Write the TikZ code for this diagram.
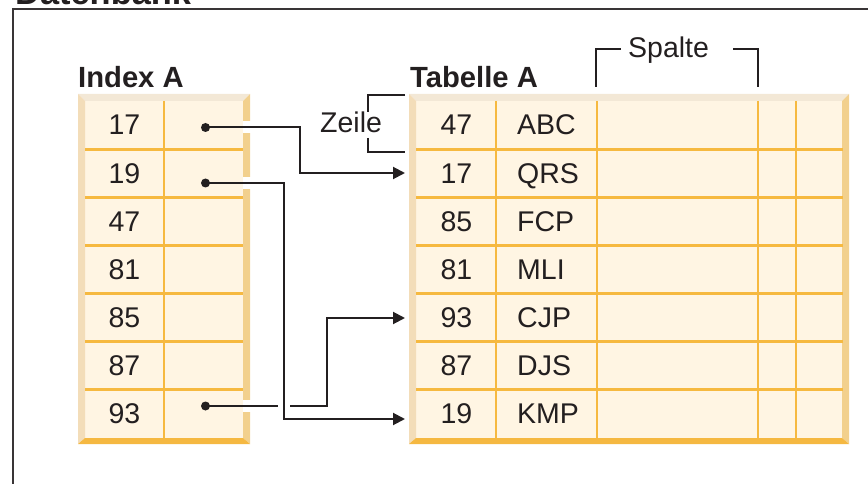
\documentclass[tikz,border=0pt]{standalone}
\usepackage{fontspec}
\setmainfont{Liberation Sans}
\usetikzlibrary{arrows.meta}
\definecolor{cream}{HTML}{FFF5E3}
\definecolor{bevtop}{HTML}{F3E8D6}
\definecolor{bevleft}{HTML}{F3DDB9}
\definecolor{bevright}{HTML}{F2D08D}
\definecolor{bevbot}{HTML}{F5B841}
\definecolor{gridc}{HTML}{F6B940}
\definecolor{ink}{HTML}{231F20}
\tikzset{
  txt/.style={inner sep=0pt, anchor=base, text=ink, font=\fontsize{28.5}{33}\selectfont},
  txtw/.style={txt, anchor=base west},
  lbl/.style={inner sep=0pt, anchor=base west, text=ink, font=\fontsize{29.2}{34}\selectfont\bfseries},
  gridline/.style={draw=gridc, line width=2.2pt},
  conn/.style={draw=ink, line width=2pt, -{Triangle[length=12pt,width=12pt]}},
  brk/.style={draw=ink, line width=2pt},
}
\newcommand\bevbox[4]{% x1 y1 x2 y2 (outer)
  \fill[cream] (#1+7,#2+7) rectangle (#3-7,#4-6);
  \fill[bevtop] (#1,#2) -- (#3,#2) -- (#3-7,#2+7) -- (#1+7,#2+7) -- cycle;
  \fill[bevleft] (#1,#2) -- (#1+7,#2+7) -- (#1+7,#4-6) -- (#1,#4) -- cycle;
  \fill[bevright] (#3,#2) -- (#3,#4) -- (#3-7,#4-6) -- (#3-7,#2+7) -- cycle;
  \fill[bevbot] (#1,#4) -- (#1+7,#4-6) -- (#3-7,#4-6) -- (#3,#4) -- cycle;
}
\begin{document}
\begin{tikzpicture}[x=1pt,y=-1pt]
\clip (0,0) rectangle (868,484);
% title and frame
\node[lbl, font=\fontsize{34.4}{40}\selectfont\bfseries] (title) at (15,5) {Datenbank};
\draw[draw=ink!90, line width=2pt] (13,490) -- (13,9.5) -- (875,9.5);

% ---------- Index A ----------
\node[lbl] (indexlbl) at (78,88) {Index A};
\bevbox{78}{94}{250}{444}
\draw[gridline] (164,101) -- (164,438);
\foreach \y in {149.5,197.5,245.5,293.5,341.5,389.5}
  \draw[gridline] (85,\y) -- (243,\y);
\foreach \v [count=\i] in {17,19,47,81,85,87,93}
  \node[txt] (i\i) at (124.5,{101+48*(\i-0.5)+10}) {\v};

% ---------- Tabelle A ----------
\node[lbl] (tablelbl) at (410,88) {Tabelle A};
\bevbox{409}{94}{849}{444}
\foreach \x in {496,597,758,796}
  \draw[gridline] (\x,101) -- (\x,438);
\foreach \y in {149.5,197.5,245.5,293.5,341.5,389.5}
  \draw[gridline] (416,\y) -- (843,\y);
\foreach \v/\w [count=\i] in {47/ABC,17/QRS,85/FCP,81/MLI,93/CJP,87/DJS,19/KMP}{
  \node[txt] (tn\i) at (456.5,{101+48*(\i-0.5)+10}) {\v};
  \node[txtw] (tw\i) at (517,{101+48*(\i-0.5)+10}) {\w};
}

% ---------- brackets ----------
\node[txtw] (zeile) at (320,133) {Zeile};
\draw[brk] (405,95) -- (368,95) -- (368,112);
\draw[brk] (368,138) -- (368,152.5) -- (405,152.5);
\node[txtw] (spalte) at (628,58) {Spalte};
\draw[brk] (596,87) -- (596,49) -- (621,49);
\draw[brk] (733,49) -- (758,49) -- (758,87);

% ---------- pointers ----------
\coordinate (d17) at (205.5,127.5);
\coordinate (d19) at (205.5,183);
\coordinate (d93) at (205.5,406);
\coordinate (t17) at (405,173);
\coordinate (t19) at (405,419);
\coordinate (t93) at (405,318);
% gaps in the index's right bevel
\foreach \c in {d17,d19,d93}
  \fill[white] ([shift={(37,-6)}]\c) rectangle ([shift={(46,6)}]\c);

\draw[conn] (d17) -- ++(94,0) |- (t17);
\draw[conn] (d93) -- ++(121,0) |- (t93);
\draw[white, line width=12pt] ([shift={(78.5,10)}]d19) -- ([shift={(78.5,230)}]d19);
\draw[conn] (d19) -- ++(78.5,0) |- (t19);
\foreach \c in {d17,d19,d93}
  \fill[ink] (\c) circle (4.5);
\end{tikzpicture}
\end{document}
